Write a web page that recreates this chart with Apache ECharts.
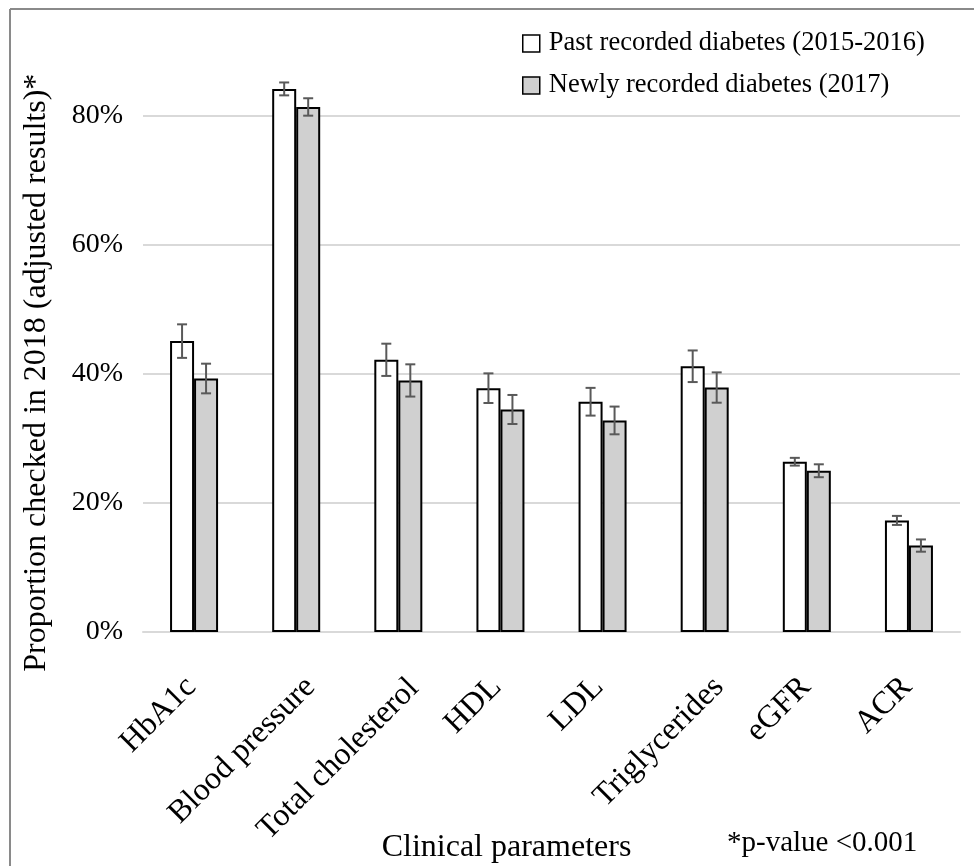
<!DOCTYPE html>
<html>
<head>
<meta charset="utf-8">
<script src="https://cdn.jsdelivr.net/npm/echarts@6/dist/echarts.min.js"></script>
<style>
html,body{margin:0;padding:0;background:#fff;}
#chart{width:974px;height:866px;}
</style>
</head>
<body>
<div id="chart"></div>
<script>
// ---- data ----
var categories = ['HbA1c', 'Blood pressure', 'Total cholesterol', 'HDL', 'LDL', 'Triglycerides', 'eGFR', 'ACR'];
var seriesNames = ['Past recorded diabetes (2015-2016)', 'Newly recorded diabetes (2017)'];
var pastValues = [45.1, 84.2, 42.2, 37.8, 35.7, 41.2, 26.4, 17.3];
var newValues  = [39.3, 81.4, 39.0, 34.5, 32.8, 37.9, 25.0, 13.4];
var pastErr = [2.6, 1.0, 2.5, 2.3, 2.15, 2.45, 0.6, 0.7];
var newErr  = [2.3, 1.35, 2.5, 2.25, 2.15, 2.35, 1.0, 0.95];
var yTicks = [0, 20, 40, 60, 80];
var yMax = 90;
var xTitle = 'Clinical parameters';
var yTitle = 'Proportion checked in 2018 (adjusted results)*';
var note = '*p-value <0.001';

// ---- styling ----
var FONT = 'Liberation Serif';
var BAR_W = 24;
// per-label horizontal nudge (px, negative = left) to mimic the reference placement
var labelNudge = [-17, 0, 3, -18, -18, 0, -15, -16];
var BASE_LH = 40;

function errData(vals, errs) {
  return vals.map(function (v, i) { return [i, v - errs[i], v + errs[i]]; });
}
function errRenderer(offset) {
  return function (params, api) {
    var idx = api.value(0);
    var lo = api.coord([idx, api.value(1)]);
    var hi = api.coord([idx, api.value(2)]);
    var x = lo[0] + offset;
    var cap = 5;
    var style = { stroke: '#595959', lineWidth: 2, fill: null };
    return {
      type: 'group',
      children: [
        { type: 'line', shape: { x1: x, y1: lo[1], x2: x, y2: hi[1] }, style: style },
        { type: 'line', shape: { x1: x - cap, y1: lo[1], x2: x + cap, y2: lo[1] }, style: style },
        { type: 'line', shape: { x1: x - cap, y1: hi[1], x2: x + cap, y2: hi[1] }, style: style }
      ]
    };
  };
}

var xData = categories.map(function (c, i) {
  var k = labelNudge[i] / Math.SQRT2;   // screen shift (s,0) -> text-frame shift
  return {
    value: c,
    textStyle: {
      align: 'right',
      verticalAlign: 'top',
      fontFamily: FONT,
      fontSize: 32,
      color: '#000',
      lineHeight: BASE_LH + 2 * k,
      padding: [0, Math.max(0, -k), 0, 0]
    }
  };
});

var chart = echarts.init(document.getElementById('chart'), null, { renderer: 'canvas' });
var gridColors = yTicks.map(function () { return '#d9d9d9'; });
gridColors.push('rgba(0,0,0,0)');

chart.setOption({
  backgroundColor: '#ffffff',
  animation: false,
  textStyle: { fontFamily: FONT, color: '#000' },
  title: {
    text: note,
    left: 727,
    top: 829,
    padding: 0,
    textStyle: { fontFamily: FONT, fontSize: 29, fontWeight: 'normal', color: '#000' }
  },
  legend: {
    orient: 'vertical',
    left: 517,
    top: 25,
    itemWidth: 17,
    itemHeight: 17,
    itemGap: 15,
    icon: 'rect',
    data: seriesNames,
    textStyle: { fontFamily: FONT, fontSize: 26.5, color: '#000', padding: [0, 0, 0, 4] },
    itemStyle: { borderColor: '#000', borderWidth: 1.5 }
  },
  grid: { left: 143, right: 14, top: 51.5, bottom: 234, containLabel: false, outerBoundsMode: 'none' },
  xAxis: {
    type: 'category',
    data: xData,
    name: xTitle,
    nameLocation: 'middle',
    nameGap: 200,
    nameMoveOverlap: false,
    nameTextStyle: { fontFamily: FONT, fontSize: 32, color: '#000', padding: [0, 90, 0, 0] },
    axisLine: { show: true, lineStyle: { color: '#d9d9d9', width: 2 } },
    axisTick: { show: false },
    axisLabel: {
      rotate: 45,
      interval: 0,
      margin: 36,
      align: 'right',
      verticalAlign: 'top',
      lineHeight: BASE_LH,
      fontFamily: FONT,
      fontSize: 32,
      color: '#000'
    }
  },
  yAxis: {
    type: 'value',
    min: 0,
    max: yMax,
    interval: 20,
    name: yTitle,
    nameLocation: 'middle',
    nameRotate: 90,
    nameGap: 90,
    nameMoveOverlap: false,
    nameTextStyle: { fontFamily: FONT, fontSize: 32, color: '#000', padding: [0, 62, 0, 0] },
    axisLine: { show: false },
    axisTick: { show: false },
    axisLabel: {
      margin: 20,
      showMaxLabel: false,
      fontFamily: FONT,
      fontSize: 28,
      color: '#000',
      formatter: '{value}%'
    },
    splitLine: { show: true, lineStyle: { color: gridColors, width: 2 } }
  },
  series: [
    {
      name: seriesNames[0],
      type: 'bar',
      data: pastValues,
      barWidth: BAR_W,
      barGap: '0%',
      itemStyle: { color: '#ffffff', borderColor: '#000', borderWidth: 2 },
      z: 2
    },
    {
      name: seriesNames[1],
      type: 'bar',
      data: newValues,
      barWidth: BAR_W,
      barGap: '0%',
      itemStyle: { color: '#d0d0d0', borderColor: '#000', borderWidth: 2 },
      z: 2
    },
    {
      type: 'custom',
      renderItem: errRenderer(-BAR_W / 2),
      data: errData(pastValues, pastErr),
      encode: { x: 0, y: [1, 2] },
      z: 5,
      silent: true
    },
    {
      type: 'custom',
      renderItem: errRenderer(BAR_W / 2),
      data: errData(newValues, newErr),
      encode: { x: 0, y: [1, 2] },
      z: 5,
      silent: true
    }
  ],
  graphic: [
    { type: 'line', shape: { x1: 10, y1: 9, x2: 974, y2: 9 }, style: { stroke: '#8a8a8a', lineWidth: 2 }, silent: true },
    { type: 'line', shape: { x1: 10, y1: 9, x2: 10, y2: 866 }, style: { stroke: '#8a8a8a', lineWidth: 2 }, silent: true }
  ]
});
</script>
</body>
</html>
